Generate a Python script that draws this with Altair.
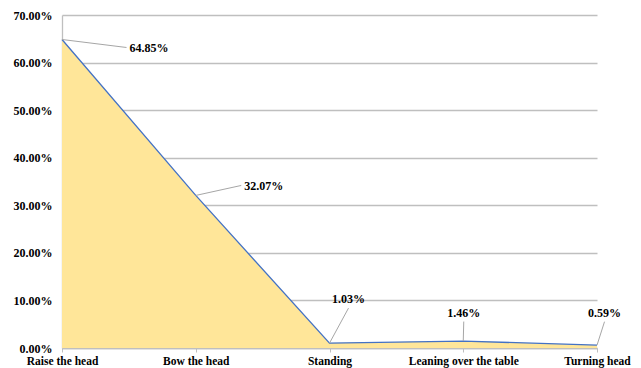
import altair as alt
import pandas as pd

categories = ["Raise the head", "Bow the head", "Standing", "Leaning over the table", "Turning head"]
values = [0.6485, 0.3207, 0.0103, 0.0146, 0.0059]
labels = ["64.85%", "32.07%", "1.03%", "1.46%", "0.59%"]

# leader-line end offsets from each point, in pixels (right, down)
leader_dx = [64.5, 45.5, 19, 0.5, 7.5]
leader_dy = [8, -10, -35, -19.5, -23.5]

W, H = 535, 333
YMAX = 0.7
n = len(categories)

df = pd.DataFrame({"idx": list(range(n)), "cat": categories, "value": values, "label": labels})
df["lx"] = df["idx"] + pd.Series(leader_dx) / W * (n - 1)
df["ly"] = df["value"] - pd.Series(leader_dy) / H * YMAX
df["side"] = ["left", "left", "top", "top", "top"]

label_expr = "[" + ",".join("'%s'" % c for c in categories) + "][datum.value]"

FONT = "Liberation Serif, DejaVu Serif, serif"

xs = alt.Scale(domain=[0, n - 1], nice=False, zero=False)
ys = alt.Scale(domain=[0, YMAX], nice=False)

xaxis = alt.Axis(values=list(range(n)), labelExpr=label_expr, title=None, grid=False,
                 domainColor="#bfbfbf", domainWidth=1.3, tickColor="#bfbfbf", tickSize=4,
                 labelFont=FONT, labelFontWeight="bold", labelFontSize=11.5, labelColor="#000000",
                 labelPadding=3, labelFlush=False, labelOverlap=False)
yaxis = alt.Axis(values=[i / 10 for i in range(8)], format=".2%", title=None,
                 grid=True, gridColor="#bfbfbf", gridWidth=1.3,
                 domainColor="#bfbfbf", domainWidth=1.3, ticks=False,
                 labelFont=FONT, labelFontWeight="bold", labelFontSize=12, labelColor="#000000",
                 labelPadding=10)

base = alt.Chart(df)
area = base.mark_area(color="#FFE699", opacity=1, line={"color": "#4472C4", "strokeWidth": 1.3}).encode(
    x=alt.X("idx:Q", scale=xs, axis=xaxis), y=alt.Y("value:Q", scale=ys, axis=yaxis))
leaders = base.mark_rule(color="#a6a6a6", strokeWidth=1).encode(
    x=alt.X("idx:Q", scale=xs, axis=xaxis), y=alt.Y("value:Q", scale=ys, axis=yaxis),
    x2="lx:Q", y2="ly:Q")
text_left = base.transform_filter("datum.side == 'left'").mark_text(
    align="left", baseline="middle", dx=3, dy=1, font=FONT, fontWeight="bold", fontSize=12, color="#000000"
).encode(x=alt.X("lx:Q", scale=xs, axis=xaxis), y=alt.Y("ly:Q", scale=ys, axis=yaxis), text="label:N")
text_top = base.transform_filter("datum.side == 'top'").mark_text(
    align="center", baseline="middle", dy=-9, font=FONT, fontWeight="bold", fontSize=12, color="#000000"
).encode(x=alt.X("lx:Q", scale=xs, axis=xaxis), y=alt.Y("ly:Q", scale=ys, axis=yaxis), text="label:N")

chart = alt.layer(area, leaders, text_left, text_top).properties(
    width=W, height=H,
    autosize=alt.AutoSizeParams(type="none"),
    padding={"left": 62, "top": 15, "right": 44, "bottom": 20},
).configure(
    background="#ffffff", font=FONT
).configure_view(strokeWidth=0)

chart.save("out.html", embed_options={"renderer": "svg", "actions": False})
